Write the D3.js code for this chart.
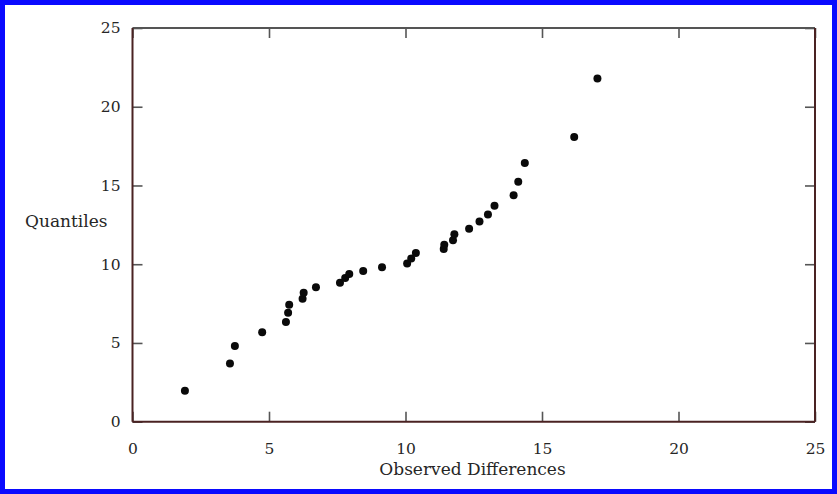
<!DOCTYPE html>
<html>
<head>
<meta charset="utf-8">
<script src="https://cdn.jsdelivr.net/npm/d3@7"></script>
<style>
  html, body { margin: 0; padding: 0; background: #fff; }
  svg { display: block; }
  text { font-family: "DejaVu Serif", serif; fill: #262626; }
</style>
</head>
<body>
<svg id="chart" width="837" height="494"></svg>
<script>
// Observed differences (x) against theoretical quantiles (y)
const observed = [1.92, 3.57, 3.75, 4.75, 5.62, 5.70, 5.74, 6.23, 6.27, 6.72,
                  7.60, 7.79, 7.94, 8.45, 9.14, 10.06, 10.21, 10.38, 11.40, 11.42,
                  11.74, 11.79, 12.33, 12.71, 13.02, 13.26, 13.96, 14.13, 14.37, 16.18, 17.03];
const quantiles = [1.97, 3.69, 4.80, 5.68, 6.33, 6.92, 7.42, 7.80, 8.19, 8.53,
                   8.82, 9.13, 9.38, 9.57, 9.80, 10.04, 10.37, 10.72, 10.96, 11.24,
                   11.53, 11.90, 12.25, 12.72, 13.16, 13.72, 14.38, 15.24, 16.43, 18.08, 21.79];
const xTicks = [0, 5, 10, 15, 20, 25];
const yTicks = [0, 5, 10, 15, 20, 25];
const xTitle = "Observed Differences";
const yTitle = "Quantiles";

const svg = d3.select("#chart");
const W = 837, H = 494;
const plot = { left: 132.5, right: 815, top: 28, bottom: 421.7 };

const x = d3.scaleLinear().domain([0, 25]).range([plot.left, plot.right]);
const y = d3.scaleLinear().domain([0, 25]).range([plot.bottom, plot.top]);

// outer blue frame
svg.append("rect")
  .attr("x", 2.5).attr("y", 2.5)
  .attr("width", W - 5).attr("height", H - 5)
  .attr("fill", "#fff")
  .attr("stroke", "#0a0aff")
  .attr("stroke-width", 5);

const tickLen = 10;
const axisBrown = "#4a2222";
const axisGray = "#555";

// ticks drawn inward on all four sides
const bottomAxis = d3.axisBottom(x).tickValues(xTicks).tickSize(-tickLen).tickPadding(21).tickFormat(d3.format("d"));
const topAxis = d3.axisTop(x).tickValues(xTicks).tickSize(-tickLen).tickFormat("");
const leftAxis = d3.axisLeft(y).tickValues(yTicks).tickSize(-tickLen).tickPadding(12).tickFormat(d3.format("d"));
const rightAxis = d3.axisRight(y).tickValues(yTicks).tickSize(-tickLen).tickFormat("");

function styleAxis(g, color) {
  g.select(".domain").remove();
  g.selectAll(".tick line").attr("stroke", color).attr("stroke-width", 1.6);
  g.selectAll(".tick text")
    .style("font-family", "'DejaVu Serif', serif")
    .style("font-size", "15.5px")
    .attr("fill", "#262626");
}

svg.append("g").attr("transform", `translate(0,${plot.bottom})`).call(bottomAxis).call(g => styleAxis(g, axisGray));
svg.append("g").attr("transform", `translate(0,${plot.top})`).call(topAxis).call(g => styleAxis(g, axisGray));
svg.append("g").attr("transform", `translate(${plot.left},0)`).call(leftAxis).call(g => styleAxis(g, axisGray));
svg.append("g").attr("transform", `translate(${plot.right},0)`).call(rightAxis).call(g => styleAxis(g, axisGray));

// plot frame
svg.append("line").attr("x1", plot.left).attr("x2", plot.right).attr("y1", plot.top).attr("y2", plot.top)
  .attr("stroke", axisGray).attr("stroke-width", 2);
svg.append("line").attr("x1", plot.right).attr("x2", plot.right).attr("y1", plot.top).attr("y2", plot.bottom)
  .attr("stroke", axisBrown).attr("stroke-width", 2);
svg.append("line").attr("x1", plot.left).attr("x2", plot.right).attr("y1", plot.bottom).attr("y2", plot.bottom)
  .attr("stroke", axisBrown).attr("stroke-width", 2);
svg.append("line").attr("x1", plot.left).attr("x2", plot.left).attr("y1", plot.top).attr("y2", plot.bottom)
  .attr("stroke", axisBrown).attr("stroke-width", 2);

// points
svg.append("g").selectAll("circle")
  .data(observed.map((d, i) => [d, quantiles[i]]))
  .join("circle")
  .attr("cx", d => x(d[0]))
  .attr("cy", d => y(d[1]))
  .attr("r", 4)
  .attr("fill", "#0a0a0a");

// axis titles
svg.append("text")
  .attr("x", 472.5)
  .attr("y", 474.5)
  .attr("text-anchor", "middle")
  .style("font-size", "17px")
  .text(xTitle);

svg.append("text")
  .attr("x", 25)
  .attr("y", 227)
  .attr("text-anchor", "start")
  .style("font-size", "17px")
  .text(yTitle);
</script>
</body>
</html>
